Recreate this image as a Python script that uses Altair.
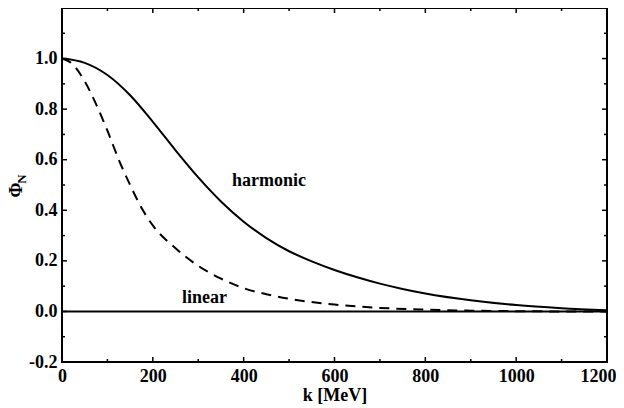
import altair as alt
import pandas as pd

# --- data ---
k_harm = [0, 50, 100, 150, 200, 250, 300, 350, 400, 450, 500, 550, 600, 650, 700, 750, 800, 900, 1000, 1100, 1200]
phi_harm = [1.0, 0.983, 0.935, 0.855, 0.75, 0.637, 0.53, 0.435, 0.355, 0.29, 0.238, 0.198, 0.164, 0.135, 0.11, 0.089, 0.071, 0.044, 0.025, 0.013, 0.005]

k_lin = [0, 25, 50, 75, 100, 125, 150, 175, 200, 250, 300, 350, 400, 450, 500, 600, 700, 800, 900, 1000, 1100, 1200]
phi_lin = [1.0, 0.975, 0.91, 0.82, 0.715, 0.6, 0.5, 0.41, 0.34, 0.25, 0.18, 0.13, 0.092, 0.068, 0.05, 0.027, 0.014, 0.007, 0.003, 0.001, 0.0, 0.0]

x_major = [0, 200, 400, 600, 800, 1000, 1200]
x_minor = [100, 300, 500, 700, 900, 1100]
y_labels = [-0.2, 0.0, 0.2, 0.4, 0.6, 0.8, 1.0]
y_major = [-0.2, 0.0, 0.2, 0.4, 0.6, 0.8, 1.0, 1.2]
y_minor = [-0.1, 0.1, 0.3, 0.5, 0.7, 0.9, 1.1]

labels_text = ["harmonic", "linear"]
labels_k = [456, 314]
labels_phi = [0.514, 0.053]

W, H = 545, 354
FONT = "Liberation Serif"

xs = alt.Scale(domain=[0, 1200], nice=False, zero=False)
ys = alt.Scale(domain=[-0.2, 1.2], nice=False, zero=False)

harm = pd.DataFrame({"k": k_harm, "phi": phi_harm})
lin = pd.DataFrame({"k": k_lin, "phi": phi_lin})

xaxis = alt.Axis(values=x_major, format="d", tickSize=0, domain=False, grid=False, labelFont=FONT,
                 labelFontSize=18, labelFontWeight="bold", labelColor="black", labelPadding=5,
                 labelOffset={"condition": {"test": "datum.value == 1200", "value": -9}, "value": 0},
                 title="k [MeV]", titleFont=FONT, titleFontSize=18, titleFontWeight="bold",
                 titleColor="black", titlePadding=1, labelFlush=False)
yaxis = alt.Axis(values=y_labels, tickSize=0, domain=False, grid=False, labelFont=FONT,
                 labelFontSize=18, labelFontWeight="bold", labelColor="black", labelPadding=5,
                 labelExpr="replace(format(datum.value, '.1f'), '\u2212', '-')", title=None)

base_h = alt.Chart(harm).mark_line(color="black", strokeWidth=2, interpolate="monotone").encode(
    x=alt.X("k:Q", scale=xs, axis=xaxis),
    y=alt.Y("phi:Q", scale=ys, axis=yaxis),
)
base_l = alt.Chart(lin).mark_line(color="black", strokeWidth=2, strokeDash=[10, 7], interpolate="monotone").encode(
    x=alt.X("k:Q", scale=xs),
    y=alt.Y("phi:Q", scale=ys),
)
zero = alt.Chart(pd.DataFrame({"y": [0.0]})).mark_rule(color="black", strokeWidth=2).encode(
    y=alt.Y("y:Q", scale=ys)
)

texts = alt.Chart(pd.DataFrame({"t": labels_text, "k": labels_k, "phi": labels_phi})).mark_text(
    font=FONT, fontSize=18, color="black", fontWeight=600
).encode(x=alt.X("k:Q", scale=xs), y=alt.Y("phi:Q", scale=ys), text="t:N")

def xticks(vals, length):
    d = pd.DataFrame({"k": vals})
    b = alt.Chart(d).mark_rule(color="black", strokeWidth=1.5).encode(
        x=alt.X("k:Q", scale=xs), y=alt.value(H), y2=alt.value(H - length))
    t = alt.Chart(d).mark_rule(color="black", strokeWidth=1.5).encode(
        x=alt.X("k:Q", scale=xs), y=alt.value(0), y2=alt.value(length))
    return [b, t]

def yticks(vals, length):
    d = pd.DataFrame({"phi": vals})
    l = alt.Chart(d).mark_rule(color="black", strokeWidth=1.5).encode(
        y=alt.Y("phi:Q", scale=ys), x=alt.value(0), x2=alt.value(length))
    r = alt.Chart(d).mark_rule(color="black", strokeWidth=1.5).encode(
        y=alt.Y("phi:Q", scale=ys), x=alt.value(W), x2=alt.value(W - length))
    return [l, r]

ticks = xticks(x_major, 5) + xticks(x_minor, 3) + yticks(y_major, 5) + yticks(y_minor, 3)

phi_t = alt.Chart(pd.DataFrame({"t": ["\u03a6"]})).mark_text(
    font=FONT, fontSize=18, fontWeight="bold", color="black", angle=270, baseline="middle"
).encode(x=alt.value(-45), y=alt.value(182), text="t:N")
n_t = alt.Chart(pd.DataFrame({"t": ["N"]})).mark_text(
    font=FONT, fontSize=13, fontWeight="bold", color="black", angle=270, baseline="middle"
).encode(x=alt.value(-40), y=alt.value(171), text="t:N")

chart = alt.layer(base_h, base_l, zero, texts, *ticks, phi_t, n_t).properties(
    width=W, height=H,
    autosize=alt.AutoSizeParams(type="none"),
    padding={"left": 54, "top": 0, "right": 9, "bottom": 46},
).configure_view(stroke="black", strokeWidth=2)

chart.save("out.html", embed_options={"renderer": "svg", "actions": False})
